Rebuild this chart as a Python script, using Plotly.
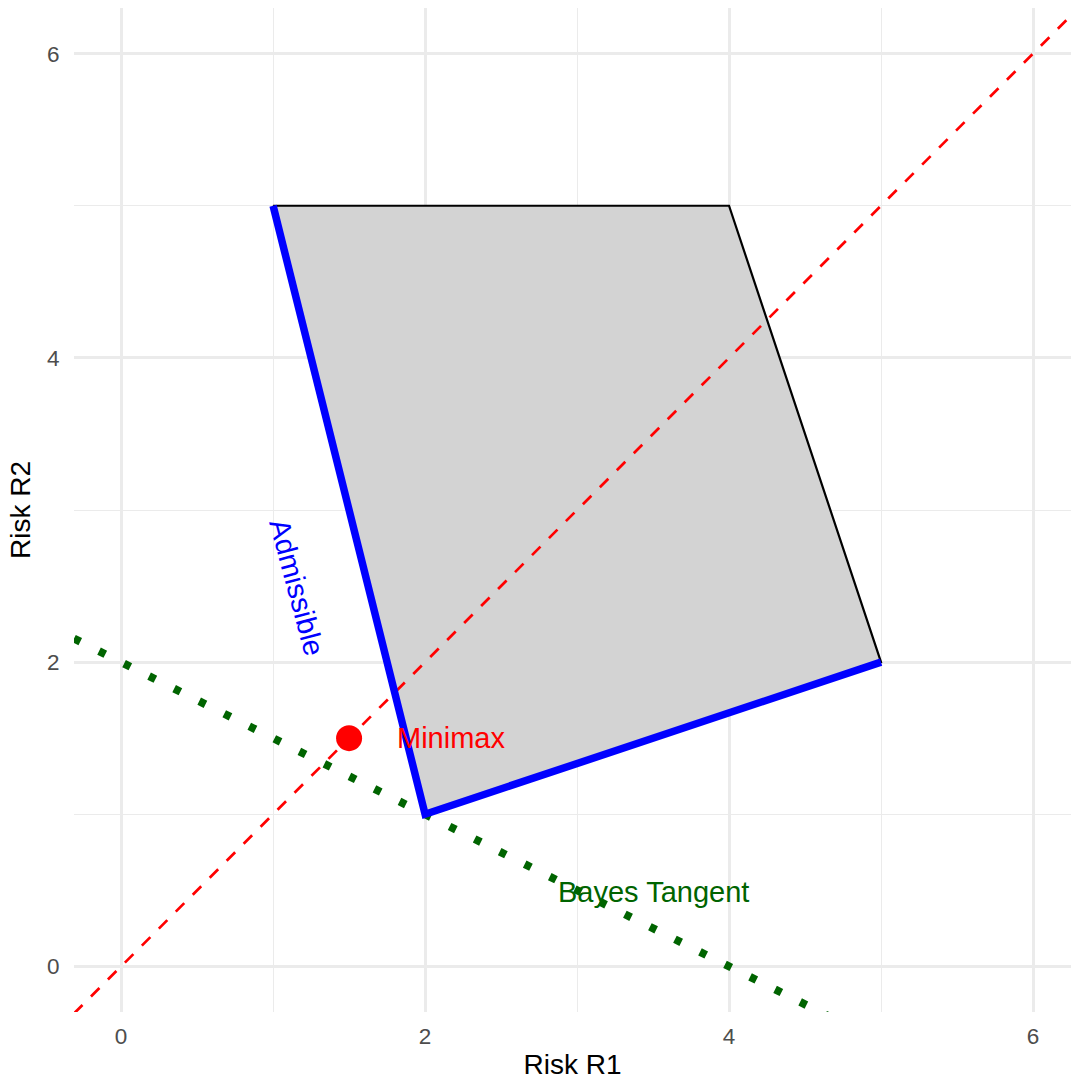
import plotly.graph_objects as go

# Risk set: vertices of the convex region (R1, R2)
region_r1 = [1, 4, 5, 2]
region_r2 = [5, 5, 2, 1]

# Lower-left (admissible) boundary of the risk set
admissible_r1 = [1, 2, 5]
admissible_r2 = [5, 1, 2]

# Minimax rule
minimax_r1 = [1.5]
minimax_r2 = [1.5]

# Reference lines: (intercept, slope)
diag_line = (0.0, 1.0)
bayes_line = (2.0, -0.5)

x_range = [-0.31, 6.25]
y_range = [-0.3, 6.3]

FONT = "Liberation Sans, Arial, sans-serif"


def abline(intercept, slope):
    xs = [x_range[0], x_range[1]]
    return xs, [intercept + slope * x for x in xs]


fig = go.Figure()

# Shaded risk set with black outline
fig.add_trace(go.Scatter(
    x=region_r1 + region_r1[:1], y=region_r2 + region_r2[:1],
    mode="lines", fill="toself", fillcolor="#D3D3D3",
    line=dict(color="black", width=2.2), hoverinfo="skip"))

# Diagonal R1 = R2
dx, dy = abline(*diag_line)
fig.add_trace(go.Scatter(x=dx, y=dy, mode="lines",
                         line=dict(color="#FF0000", width=2.7, dash="12px,12px")))

# Bayes tangent line
bx, by = abline(*bayes_line)
fig.add_trace(go.Scatter(x=bx, y=by, mode="lines",
                         line=dict(color="#006400", width=8, dash="7px,21px")))

# Admissible boundary
fig.add_trace(go.Scatter(x=admissible_r1, y=admissible_r2, mode="lines",
                         line=dict(color="#0000FF", width=7.5)))

# Minimax point
fig.add_trace(go.Scatter(x=minimax_r1, y=minimax_r2, mode="markers",
                         marker=dict(color="#FF0000", size=26, line=dict(width=0))))

fig.add_annotation(x=1.8, y=1.5, text="Minimax", showarrow=False,
                   xanchor="left", yanchor="middle",
                   font=dict(family=FONT, size=29, color="#FF0000"))
fig.add_annotation(x=3.5, y=0.49, text="Bayes Tangent", showarrow=False,
                   xanchor="center", yanchor="middle",
                   font=dict(family=FONT, size=29, color="#006400"))
fig.add_annotation(x=1.16, y=2.49, text="Admissible", showarrow=False,
                   xanchor="center", yanchor="middle", textangle=75,
                   font=dict(family=FONT, size=29, color="#0000FF"))

axis_common = dict(
    tick0=0, dtick=2, showgrid=True, gridcolor="#EBEBEB", gridwidth=2.7,
    zeroline=False, showline=False,
    ticks="outside", tickcolor="rgba(0,0,0,0)",
    tickfont=dict(family=FONT, size=22.5, color="#4D4D4D"),
    minor=dict(dtick=1, tick0=0, showgrid=True, gridcolor="#EBEBEB", gridwidth=1.4),
)

fig.update_xaxes(range=x_range, ticklen=4, title=dict(text="Risk R1", standoff=6,
                 font=dict(family=FONT, size=28, color="black")), **axis_common)
fig.update_yaxes(range=y_range, ticklen=9, title=dict(text="Risk R2", standoff=8,
                 font=dict(family=FONT, size=28, color="black")), **axis_common)

fig.update_layout(
    width=1071, height=1084,
    margin=dict(l=74, r=0, t=8, b=72),
    plot_bgcolor="white", paper_bgcolor="white",
    showlegend=False,
)

fig.write_html("out.html")
